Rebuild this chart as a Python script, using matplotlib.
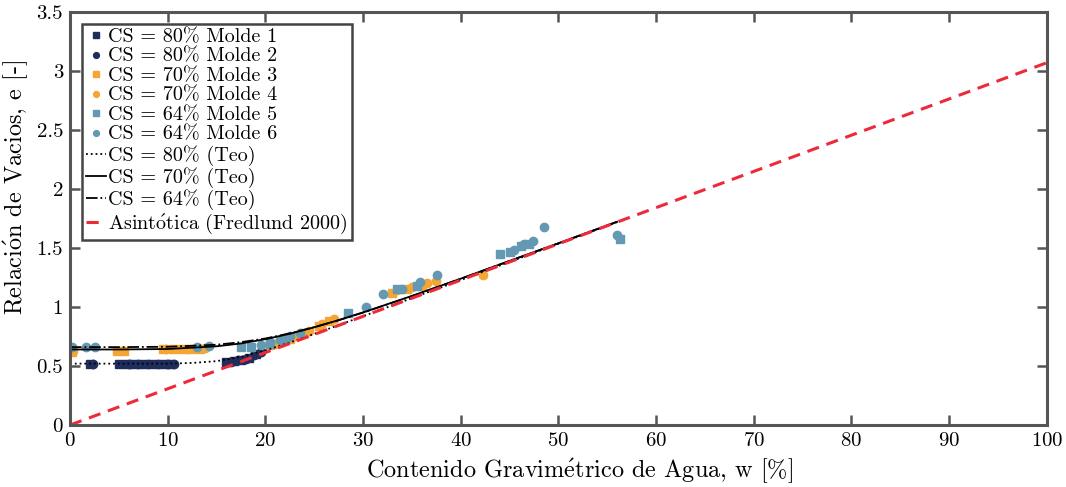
import matplotlib
matplotlib.use("Agg")
import matplotlib.pyplot as plt
from matplotlib.ticker import FuncFormatter, MultipleLocator

plt.rcParams['font.family'] = ['cmr10', 'DejaVu Serif']
plt.rcParams['mathtext.fontset'] = 'cm'
plt.rcParams['axes.formatter.use_mathtext'] = True

# ---- data ----
m1_w = [2.0, 5.0, 5.8, 6.5, 7.5, 8.5, 9.5, 10.2, 16.0, 16.8, 17.5, 18.3, 19.0]
m1_e = [0.52, 0.52, 0.52, 0.52, 0.52, 0.52, 0.52, 0.52, 0.53, 0.54, 0.55, 0.57, 0.60]
m2_w = [2.3, 6.0, 7.0, 8.0, 9.0, 10.0, 10.6, 16.5, 17.2, 18.0, 18.8, 19.5]
m2_e = [0.52, 0.52, 0.52, 0.52, 0.52, 0.52, 0.52, 0.53, 0.55, 0.56, 0.59, 0.62]
m3_w = [0.2, 4.8, 5.5, 9.5, 10.5, 11.5, 12.5, 13.3, 20.5, 21.5, 22.5, 24.0, 25.5, 26.5, 33.0, 34.5, 36.0]
m3_e = [0.62, 0.63, 0.63, 0.64, 0.64, 0.64, 0.64, 0.64, 0.68, 0.70, 0.73, 0.78, 0.84, 0.88, 1.12, 1.15, 1.18]
m4_w = [0.3, 9.8, 12.0, 13.8, 21.0, 23.0, 24.5, 25.8, 27.0, 33.5, 35.0, 36.5, 37.5, 42.3]
m4_e = [0.63, 0.64, 0.64, 0.65, 0.69, 0.75, 0.80, 0.86, 0.90, 1.14, 1.17, 1.20, 1.22, 1.27]
m5_w = [17.5, 18.5, 20.5, 22.0, 28.5, 33.5, 35.5, 44.0, 45.0, 46.2, 47.0, 56.3]
m5_e = [0.66, 0.66, 0.69, 0.72, 0.95, 1.15, 1.18, 1.45, 1.47, 1.52, 1.53, 1.58]
m6_w = [0.2, 1.6, 2.6, 13.0, 14.2, 19.5, 20.5, 21.5, 22.5, 23.5, 30.3, 32.0, 34.0, 35.8, 37.6,
        45.5, 46.5, 47.4, 48.5, 56.0]
m6_e = [0.66, 0.665, 0.665, 0.66, 0.67, 0.68, 0.70, 0.72, 0.75, 0.78, 1.00, 1.11, 1.15, 1.21, 1.27,
        1.48, 1.53, 1.56, 1.68, 1.61]

teo80_w = [0, 5, 10, 12.5, 15, 17.5, 20, 22.5, 25, 27.5, 30, 35, 40, 45, 50, 56]
teo80_e = [0.52, 0.52, 0.52, 0.526, 0.541, 0.577, 0.632, 0.699, 0.772, 0.846, 0.922, 1.075, 1.228, 1.382, 1.535, 1.719]
teo70_w = [0, 5, 10, 15, 17.5, 20, 22.5, 25, 27.5, 30, 35, 40, 45, 50, 56]
teo70_e = [0.64, 0.64, 0.644, 0.667, 0.691, 0.727, 0.773, 0.828, 0.889, 0.954, 1.094, 1.240, 1.391, 1.540, 1.722]
teo64_w = [0, 5, 10, 15, 17.5, 20, 22.5, 25, 27.5, 30, 35, 40, 45, 50, 56]
teo64_e = [0.66, 0.66, 0.663, 0.680, 0.702, 0.733, 0.777, 0.829, 0.888, 0.953, 1.092, 1.239, 1.390, 1.540, 1.722]

asym_w = [0, 100]
asym_e = [0, 3.07]

labels = ['CS = 80% Molde 1', 'CS = 80% Molde 2', 'CS = 70% Molde 3', 'CS = 70% Molde 4',
          'CS = 64% Molde 5', 'CS = 64% Molde 6', 'CS = 80% (Teo)', 'CS = 70% (Teo)',
          'CS = 64% (Teo)', r'Asint$\mathrm{\acute{o}}$tica (Fredlund 2000)']

c_navy = '#1f2d5c'
c_orange = '#f4a534'
c_blue = '#6399b3'
c_red = '#ee2a3a'
c_spine = '#555555'

fig = plt.figure(figsize=(10.66, 4.87), dpi=100)
ax = fig.add_axes([0.0657, 0.1273, 0.9163, 0.8481])

ms = 6
ax.plot(m1_w, m1_e, 's', color=c_navy, ms=ms, label=labels[0])
ax.plot(m2_w, m2_e, 'o', color=c_navy, ms=ms, label=labels[1])
ax.plot(m3_w, m3_e, 's', color=c_orange, ms=ms, label=labels[2])
ax.plot(m4_w, m4_e, 'o', color=c_orange, ms=ms, label=labels[3])
ax.plot(m5_w, m5_e, 's', color=c_blue, ms=ms, label=labels[4])
ax.plot(m6_w, m6_e, 'o', color=c_blue, ms=ms, label=labels[5])
ax.plot(teo80_w, teo80_e, ':', color='black', lw=1.3, label=labels[6])
ax.plot(teo70_w, teo70_e, '-', color='black', lw=1.3, label=labels[7])
ax.plot(teo64_w, teo64_e, '-.', color='black', lw=1.3, label=labels[8])
ax.plot(asym_w, asym_e, '--', color=c_red, lw=2.2, dashes=(4, 2.6), label=labels[9])

ax.set_xlim(0, 100)
ax.set_ylim(0, 3.5)
ax.xaxis.set_major_locator(MultipleLocator(10))
ax.yaxis.set_major_locator(MultipleLocator(0.5))
ax.yaxis.set_major_formatter(FuncFormatter(lambda v, p: '%g' % v))
ax.tick_params(direction='in', length=7, width=1.8, color=c_spine, labelsize=15,
               top=True, right=True, pad=5)
for s in ax.spines.values():
    s.set_color(c_spine)
    s.set_linewidth(2.2)

ax.set_xlabel(r'Contenido Gravim$\mathrm{\acute{e}}$trico de Agua, w [%]', fontsize=17.5)
ax.set_ylabel(r'Relaci$\mathrm{\acute{o}}$n de Vacios, e [-]', fontsize=17.5)
ax.xaxis.set_label_coords(0.522, -0.075)
ax.yaxis.set_label_coords(-0.041, 0.575)

leg = ax.legend(loc='upper left', fontsize=14.5, frameon=True, fancybox=False,
                handlelength=1.0, handletextpad=0.1, borderpad=0.2, labelspacing=0.07,
                borderaxespad=0.6, markerscale=0.7)
leg.get_frame().set_edgecolor('#444444')
leg.get_frame().set_linewidth(1.8)
leg.get_frame().set_alpha(1)

fig.savefig('out.png', dpi=100)
